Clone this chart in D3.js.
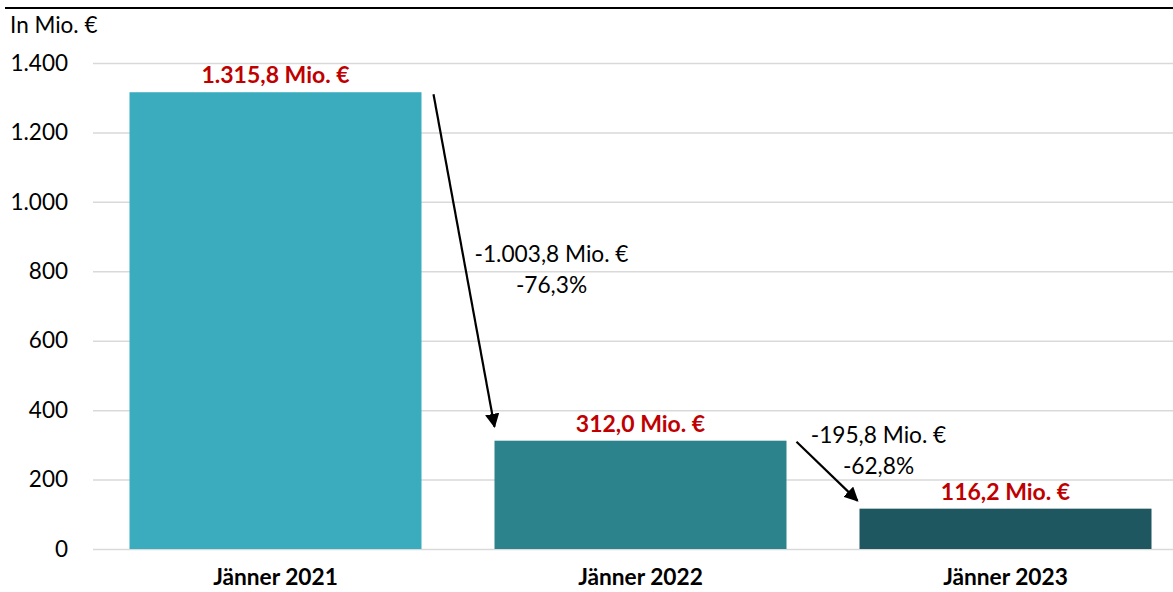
<!DOCTYPE html>
<html>
<head>
<meta charset="utf-8">
<script src="https://cdn.jsdelivr.net/npm/d3@7"></script>
<style>
  body { margin: 0; background: #fff; }
  svg text { font-family: Lato, "Open Sans", sans-serif; }
</style>
</head>
<body>
<svg class="chart" width="1173" height="592"></svg>
<script>
// data
const months = ["Jänner 2021", "Jänner 2022", "Jänner 2023"];
const values = [1315.8, 312.0, 116.2];
const valueLabels = ["1.315,8 Mio. €", "312,0 Mio. €", "116,2 Mio. €"];
const barColors = ["#3AACBD", "#2D838C", "#1F5760"];
const changeLabels = ["-1.003,8 Mio. €", "-195,8 Mio. €"];
const pctLabels = ["-76,3%", "-62,8%"];
const yTicks = [0, 200, 400, 600, 800, 1000, 1200, 1400];

let svg = d3.select("svg.chart"),
    margin = {top: 63, bottom: 43, left: 93, right: -15},
    width = svg.attr("width") - margin.left - margin.right,
    height = svg.attr("height") - margin.top - margin.bottom;

let g = svg.append("g")
    .attr("transform", "translate(" + margin.left + "," + margin.top + ")");

let xScale = d3.scaleBand()
    .range([0, width])
    .domain(months)
    .paddingInner(0.2)
    .paddingOuter(0.1);
let yScale = d3.scaleLinear()
    .range([height, 0])
    .domain([0, 1400]);

const fmt = d3.formatLocale({decimal: ",", thousands: ".", grouping: [3], currency: ["", " €"]}).format(",");

// top border
svg.append("line")
    .attr("x1", 5).attr("x2", 1173)
    .attr("y1", 8).attr("y2", 8)
    .attr("stroke", "#000")
    .attr("stroke-width", 2);

// unit label
svg.append("text")
    .attr("x", 10)
    .attr("y", 33)
    .attr("font-size", "22.5px")
    .attr("fill", "#000")
    .text("In Mio. €");

// gridlines
g.selectAll(".grid")
    .data(yTicks)
    .join("line")
    .attr("class", "grid")
    .attr("x1", 0)
    .attr("x2", 1173 - margin.left)
    .attr("y1", d => yScale(d) + 0.5)
    .attr("y2", d => yScale(d) + 0.5)
    .attr("stroke", "#D9D9D9")
    .attr("stroke-width", 1.5);

// y axis
let yAxis = g.append("g")
    .call(d3.axisLeft(yScale).tickValues(yTicks).tickSize(0).tickPadding(25).tickFormat(fmt));
yAxis.select(".domain").remove();
yAxis.selectAll("text")
    .attr("font-size", "22.5px")
    .attr("fill", "#000")
    .style("font-family", "Lato, sans-serif");

// x axis
let xAxis = g.append("g")
    .attr("transform", "translate(0," + height + ")")
    .call(d3.axisBottom(xScale).tickSize(0).tickPadding(20));
xAxis.select(".domain").remove();
xAxis.selectAll("text")
    .attr("font-size", "22.7px")
    .attr("font-weight", "bold")
    .attr("fill", "#000")
    .style("font-family", "Lato, sans-serif");

// bars
g.selectAll(".bar")
    .data(values)
    .join("rect")
    .attr("class", "bar")
    .attr("x", (d, i) => xScale(months[i]))
    .attr("y", d => yScale(d))
    .attr("width", xScale.bandwidth())
    .attr("height", d => height - yScale(d))
    .attr("fill", (d, i) => barColors[i]);

// value labels
g.selectAll(".val")
    .data(values)
    .join("text")
    .attr("class", "val")
    .attr("x", (d, i) => xScale(months[i]) + xScale.bandwidth() / 2)
    .attr("y", d => yScale(d) - 9)
    .attr("text-anchor", "middle")
    .attr("font-size", "23px")
    .attr("font-weight", "bold")
    .attr("fill", "#C00000")
    .text((d, i) => valueLabels[i]);

// arrows
svg.append("defs").append("marker")
    .attr("id", "arrowhead")
    .attr("viewBox", "0 0 10 10")
    .attr("refX", 9).attr("refY", 5)
    .attr("markerWidth", 6.5).attr("markerHeight", 6.5)
    .attr("orient", "auto")
    .append("path")
    .attr("d", "M0,0 L10,5 L0,10 z")
    .attr("fill", "#000");

// arrow from the right edge of one bar down to the top-left of the next
const arrowData = changeLabels.map((c, i) => ({
    x1: xScale(months[i]) + xScale.bandwidth() + (i === 0 ? 12 : 10),
    y1: yScale(values[i]) + (i === 0 ? 2 : 1),
    x2: xScale(months[i + 1]) + (i === 0 ? 0 : -2),
    y2: yScale(values[i + 1]) - (i === 0 ? 14 : 8)
}));

g.selectAll(".arrow")
    .data(arrowData)
    .join("line")
    .attr("class", "arrow")
    .attr("x1", d => d.x1)
    .attr("y1", d => d.y1)
    .attr("x2", d => d.x2)
    .attr("y2", d => d.y2)
    .attr("stroke", "#000")
    .attr("stroke-width", 2.2)
    .attr("marker-end", "url(#arrowhead)");

// change annotations, placed next to each arrow
const annoPos = [
    {x: xScale(months[1]) + 57, y: yScale(values[1]) - 179},
    {x: xScale(months[2]) + 19, y: yScale(values[2]) - 66}
];
g.selectAll(".chg")
    .data(changeLabels)
    .join("text")
    .attr("class", "chg")
    .attr("x", (d, i) => annoPos[i].x)
    .attr("y", (d, i) => annoPos[i].y)
    .attr("text-anchor", "middle")
    .attr("font-size", "22.7px")
    .attr("fill", "#000")
    .text(d => d);
g.selectAll(".pct")
    .data(pctLabels)
    .join("text")
    .attr("class", "pct")
    .attr("x", (d, i) => annoPos[i].x)
    .attr("y", (d, i) => annoPos[i].y + 31)
    .attr("text-anchor", "middle")
    .attr("font-size", "22.7px")
    .attr("fill", "#000")
    .text(d => d);
</script>
</body>
</html>
